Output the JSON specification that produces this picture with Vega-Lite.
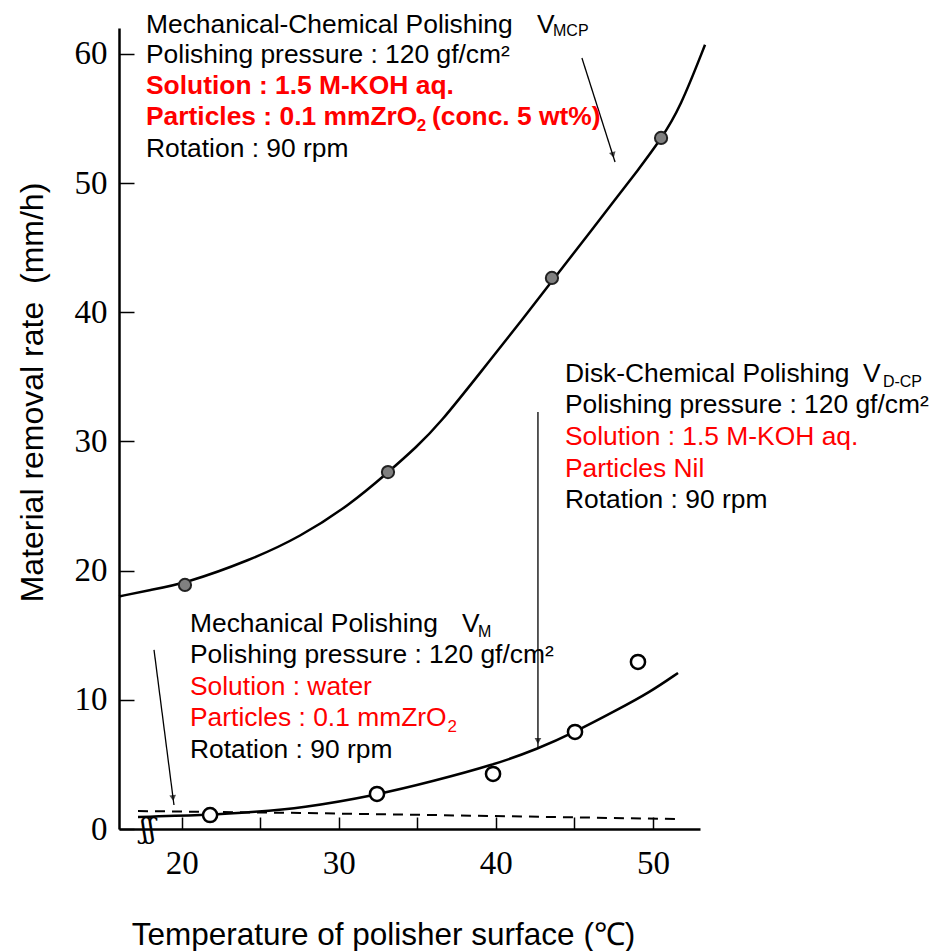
{
  "$schema": "https://vega.github.io/schema/vega-lite/v6.json",
  "width": 581,
  "height": 801,
  "autosize": {"type": "none"},
  "padding": {"left": 119, "top": 28, "right": 232, "bottom": 122},
  "background": "white",
  "config": {"view": {"stroke": null}},
  "layer": [
    {
      "data": {"values": [
        {"t": 17.21, "r": 1.39}, {"t": 27.53, "r": 1.24}, {"t": 39.63, "r": 1.01}, {"t": 51.53, "r": 0.77}
      ]},
      "mark": {"type": "line", "color": "black", "strokeWidth": 2, "strokeDash": [10, 7]},
      "encoding": {
        "x": {"field": "t", "type": "quantitative",
          "scale": {"domain": [16, 53], "nice": false, "zero": false},
          "axis": {
            "values": [20, 25, 30, 35, 40, 45, 50],
            "labelExpr": "datum.value % 10 === 0 ? datum.label : ''",
            "tickSize": -12, "tickWidth": 1.5, "tickColor": "black",
            "domainColor": "black", "domainWidth": 2.5,
            "labelFont": "Liberation Serif", "labelFontSize": 33, "labelColor": "black", "labelPadding": 30,
            "grid": false,
            "title": "Temperature of polisher surface (℃)",
            "titleFont": "Liberation Sans", "titleFontSize": 31.5, "titleFontWeight": "normal", "titleColor": "black",
            "titleX": 264, "titleY": 115, "titleBaseline": "alphabetic", "titleAlign": "center"
          }},
        "y": {"field": "r", "type": "quantitative",
          "scale": {"domain": [0, 62], "nice": false, "zero": false},
          "axis": {
            "values": [0, 10, 20, 30, 40, 50, 60],
            "tickSize": -15, "tickWidth": 1.5, "tickColor": "black",
            "domainColor": "black", "domainWidth": 2.5,
            "labelFont": "Liberation Serif", "labelFontSize": 33, "labelColor": "black", "labelPadding": 27,
            "grid": false,
            "title": "Material removal rate\u00a0\u00a0(mm/h)",
            "titleFont": "Liberation Sans", "titleFontSize": 32, "titleFontWeight": "normal", "titleColor": "black",
            "titleX": -77, "titleY": 364, "titleBaseline": "alphabetic", "titleAlign": "center", "titleAngle": -90
          }}
      }
    },
    {
      "data": {"values": [
        {"t": 16.0, "r": 18.0}, {"t": 17.97, "r": 18.5}, {"t": 20.20, "r": 19.0}, {"t": 24.34, "r": 20.8},
        {"t": 27.53, "r": 22.6}, {"t": 30.71, "r": 25.1}, {"t": 33.13, "r": 27.6}, {"t": 34.98, "r": 29.6},
        {"t": 36.44, "r": 31.4}, {"t": 38.99, "r": 35.3}, {"t": 41.86, "r": 39.7}, {"t": 43.57, "r": 42.4},
        {"t": 45.36, "r": 45.2}, {"t": 47.46, "r": 48.5}, {"t": 48.99, "r": 50.9}, {"t": 50.52, "r": 53.4},
        {"t": 51.73, "r": 55.8}, {"t": 53.32, "r": 60.7}
      ]},
      "mark": {"type": "line", "color": "black", "strokeWidth": 2.5, "interpolate": "basis"},
      "encoding": {"x": {"field": "t", "type": "quantitative"}, "y": {"field": "r", "type": "quantitative"}}
    },
    {
      "data": {"values": [
        {"t": 17.21, "r": 0.93}, {"t": 21.80, "r": 1.08}, {"t": 24.66, "r": 1.32}, {"t": 27.53, "r": 1.6},
        {"t": 32.43, "r": 2.63}, {"t": 36.00, "r": 3.7}, {"t": 39.82, "r": 4.95}, {"t": 42.68, "r": 6.2},
        {"t": 45.04, "r": 7.51}, {"t": 47.71, "r": 9.21}, {"t": 49.82, "r": 10.60}, {"t": 51.60, "r": 12.08}
      ]},
      "mark": {"type": "line", "color": "black", "strokeWidth": 2.5, "interpolate": "basis"},
      "encoding": {"x": {"field": "t", "type": "quantitative"}, "y": {"field": "r", "type": "quantitative"}}
    },
    {
      "data": {"values": [
        {"t": 45.48, "r": 59.68, "t2": 47.59, "r2": 51.63},
        {"t": 42.68, "r": 32.28, "t2": 42.68, "r2": 6.35},
        {"t": 18.23, "r": 13.86, "t2": 19.50, "r2": 1.86}
      ]},
      "mark": {"type": "rule", "color": "black", "strokeWidth": 1.3},
      "encoding": {
        "x": {"field": "t", "type": "quantitative"}, "y": {"field": "r", "type": "quantitative"},
        "x2": {"field": "t2"}, "y2": {"field": "r2"}
      }
    },
    {
      "data": {"values": [{"t": 47.46, "r": 52.17}]},
      "mark": {"type": "point", "shape": "triangle-down", "filled": true, "color": "black", "size": 45, "angle": -15},
      "encoding": {"x": {"field": "t", "type": "quantitative"}, "y": {"field": "r", "type": "quantitative"}}
    },
    {
      "data": {"values": [{"t": 42.68, "r": 6.81}]},
      "mark": {"type": "point", "shape": "triangle-down", "filled": true, "color": "black", "size": 45},
      "encoding": {"x": {"field": "t", "type": "quantitative"}, "y": {"field": "r", "type": "quantitative"}}
    },
    {
      "data": {"values": [{"t": 19.44, "r": 2.40}]},
      "mark": {"type": "point", "shape": "triangle-down", "filled": true, "color": "black", "size": 45, "angle": -7},
      "encoding": {"x": {"field": "t", "type": "quantitative"}, "y": {"field": "r", "type": "quantitative"}}
    },
    {
      "data": {"values": [
        {"t": 20.20, "r": 18.89}, {"t": 33.13, "r": 27.63}, {"t": 43.57, "r": 42.65}, {"t": 50.52, "r": 53.49}
      ]},
      "mark": {"type": "point", "shape": "circle", "filled": true, "fill": "#808080", "stroke": "#222222", "strokeWidth": 2, "size": 150, "opacity": 1},
      "encoding": {"x": {"field": "t", "type": "quantitative"}, "y": {"field": "r", "type": "quantitative"}}
    },
    {
      "data": {"values": [
        {"t": 21.80, "r": 1.08}, {"t": 32.43, "r": 2.71}, {"t": 39.82, "r": 4.26}, {"t": 45.04, "r": 7.51}, {"t": 49.05, "r": 12.93}
      ]},
      "mark": {"type": "point", "shape": "circle", "filled": true, "fill": "white", "stroke": "black", "strokeWidth": 2.5, "size": 200, "opacity": 1},
      "encoding": {"x": {"field": "t", "type": "quantitative"}, "y": {"field": "r", "type": "quantitative"}}
    },
    {
      "data": {"values": [
        {"t": 17.72, "r": 61.61, "text": "Mechanical-Chemical Polishing"},
        {"t": 17.72, "r": 59.29, "text": "Polishing pressure : 120 gf/cm²"},
        {"t": 17.72, "r": 52.02, "text": "Rotation : 90 rpm"},
        {"t": 42.62, "r": 61.61, "text": "V"},
        {"t": 44.40, "r": 34.60, "text": "Disk-Chemical Polishing"},
        {"t": 44.40, "r": 32.20, "text": "Polishing pressure : 120 gf/cm²"},
        {"t": 44.40, "r": 24.85, "text": "Rotation : 90 rpm"},
        {"t": 63.38, "r": 34.60, "text": "V"},
        {"t": 20.52, "r": 15.25, "text": "Mechanical Polishing"},
        {"t": 20.52, "r": 12.85, "text": "Polishing pressure : 120 gf/cm²"},
        {"t": 20.52, "r": 5.50, "text": "Rotation : 90 rpm"},
        {"t": 37.84, "r": 15.25, "text": "V"}
      ]},
      "mark": {"type": "text", "align": "left", "baseline": "alphabetic", "font": "Liberation Sans", "fontSize": 26.4, "color": "black"},
      "encoding": {"x": {"field": "t", "type": "quantitative"}, "y": {"field": "r", "type": "quantitative"}, "text": {"field": "text"}}
    },
    {
      "data": {"values": [
        {"t": 17.72, "r": 56.89, "text": "Solution : 1.5 M-KOH aq."},
        {"t": 17.72, "r": 54.49, "text": "Particles : 0.1 mmZrO"},
        {"t": 35.93, "r": 54.49, "text": "(conc. 5 wt%)"}
      ]},
      "mark": {"type": "text", "align": "left", "baseline": "alphabetic", "font": "Liberation Sans", "fontSize": 26.4, "fontWeight": "bold", "color": "#ff0000"},
      "encoding": {"x": {"field": "t", "type": "quantitative"}, "y": {"field": "r", "type": "quantitative"}, "text": {"field": "text"}}
    },
    {
      "data": {"values": [
        {"t": 34.96, "r": 54.03, "text": "2"}
      ]},
      "mark": {"type": "text", "align": "left", "baseline": "alphabetic", "font": "Liberation Sans", "fontSize": 17, "fontWeight": "bold", "color": "#ff0000"},
      "encoding": {"x": {"field": "t", "type": "quantitative"}, "y": {"field": "r", "type": "quantitative"}, "text": {"field": "text"}}
    },
    {
      "data": {"values": [
        {"t": 44.40, "r": 29.72, "text": "Solution : 1.5 M-KOH aq."},
        {"t": 44.40, "r": 27.25, "text": "Particles Nil"},
        {"t": 20.52, "r": 10.37, "text": "Solution : water"},
        {"t": 20.52, "r": 7.97, "text": "Particles : 0.1 mmZrO"}
      ]},
      "mark": {"type": "text", "align": "left", "baseline": "alphabetic", "font": "Liberation Sans", "fontSize": 26.4, "color": "#ff0000"},
      "encoding": {"x": {"field": "t", "type": "quantitative"}, "y": {"field": "r", "type": "quantitative"}, "text": {"field": "text"}}
    },
    {
      "data": {"values": [
        {"t": 36.92, "r": 7.51, "text": "2"}
      ]},
      "mark": {"type": "text", "align": "left", "baseline": "alphabetic", "font": "Liberation Sans", "fontSize": 17, "color": "#ff0000"},
      "encoding": {"x": {"field": "t", "type": "quantitative"}, "y": {"field": "r", "type": "quantitative"}, "text": {"field": "text"}}
    },
    {
      "data": {"values": [
        {"t": 43.64, "r": 61.4, "text": "MCP"},
        {"t": 64.65, "r": 34.21, "text": "D-CP"},
        {"t": 38.86, "r": 14.9, "text": "M"}
      ]},
      "mark": {"type": "text", "align": "left", "baseline": "alphabetic", "font": "Liberation Sans", "fontSize": 16, "color": "black"},
      "encoding": {"x": {"field": "t", "type": "quantitative"}, "y": {"field": "r", "type": "quantitative"}, "text": {"field": "text"}}
    },
    {
      "data": {"values": [{"t": 17.85, "r": -0.1, "text": "ʃʃ"}]},
      "mark": {"type": "text", "align": "center", "baseline": "middle", "font": "DejaVu Serif", "fontSize": 28, "color": "black"},
      "encoding": {"x": {"field": "t", "type": "quantitative"}, "y": {"field": "r", "type": "quantitative"}, "text": {"field": "text"}}
    }
  ]
}
